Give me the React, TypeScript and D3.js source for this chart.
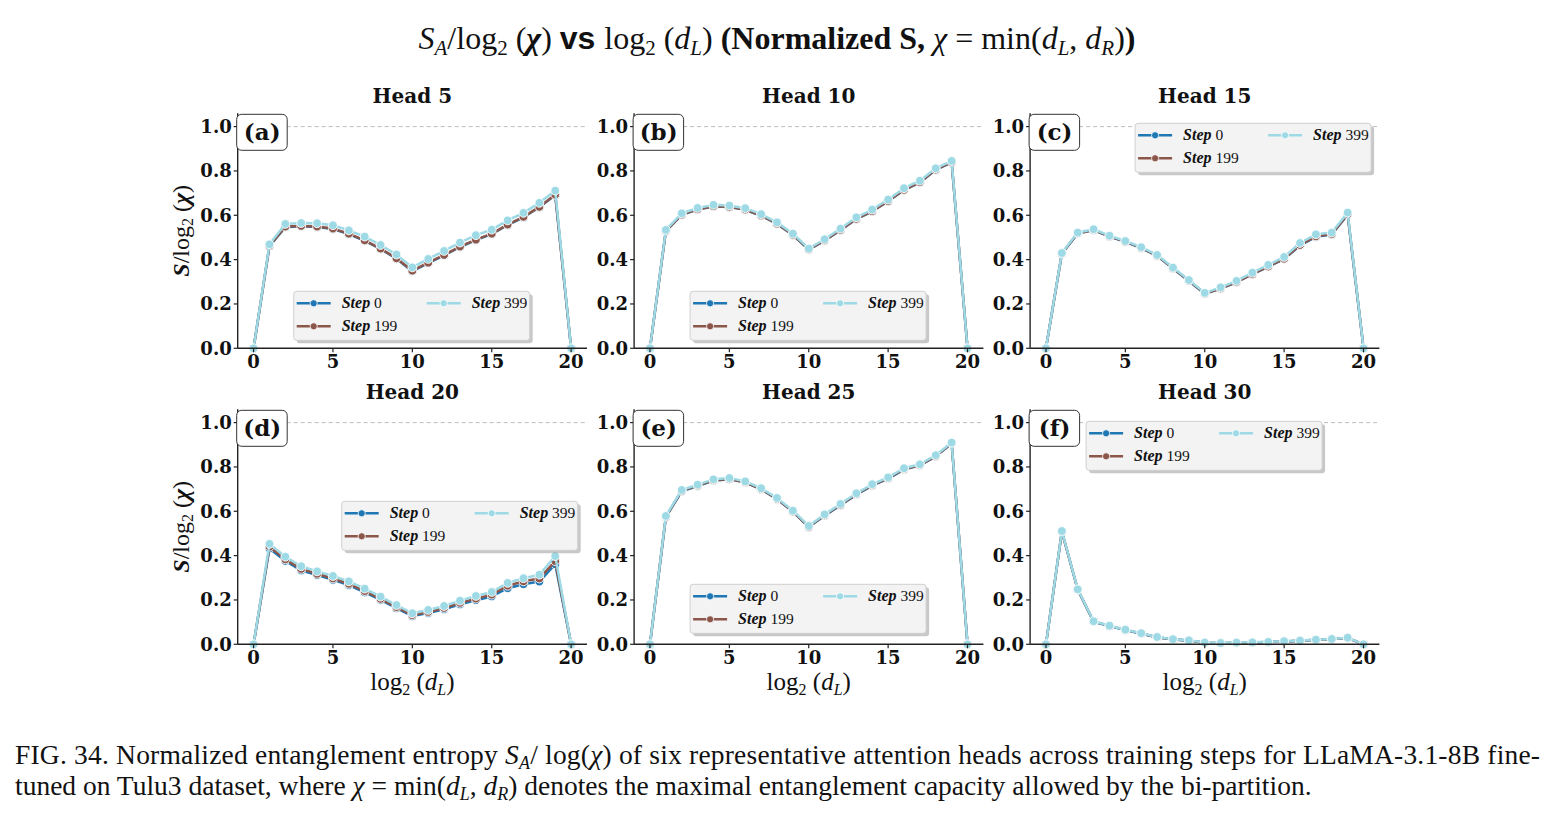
import * as d3 from 'd3'

// log2(d_L) positions along the chain
const cuts = d3.range(0, 21)

const heads = ['Head 5', 'Head 10', 'Head 15', 'Head 20', 'Head 25', 'Head 30']
const panelTags = ['(a)', '(b)', '(c)', '(d)', '(e)', '(f)']
const stepNames = ['0', '199', '399']
const stepColors = ['#1f77b4', '#8c564b', '#9edae5']
const yTicks = [0, 0.2, 0.4, 0.6, 0.8, 1.0]
const xTicks = [0, 5, 10, 15, 20]

// normalized entropy S/log2(chi) per head, for steps 0 / 199 / 399
const head5Step0 = [0, 0.461, 0.546, 0.55, 0.547, 0.538, 0.515, 0.485, 0.448, 0.404, 0.348, 0.384, 0.419, 0.457, 0.488, 0.515, 0.556, 0.591, 0.636, 0.691, 0]
const head5Step199 = [0, 0.463, 0.549, 0.552, 0.549, 0.54, 0.517, 0.487, 0.45, 0.406, 0.35, 0.386, 0.421, 0.459, 0.49, 0.517, 0.558, 0.593, 0.638, 0.693, 0]
const head5Step399 = [0, 0.469, 0.561, 0.565, 0.564, 0.555, 0.532, 0.504, 0.466, 0.423, 0.365, 0.403, 0.439, 0.477, 0.51, 0.535, 0.577, 0.611, 0.656, 0.711, 0]

const head10Step0 = [0, 0.529, 0.602, 0.626, 0.64, 0.637, 0.625, 0.598, 0.561, 0.511, 0.445, 0.486, 0.533, 0.583, 0.618, 0.663, 0.714, 0.748, 0.805, 0.839, 0]
const head10Step199 = [0, 0.53, 0.603, 0.627, 0.641, 0.638, 0.626, 0.599, 0.562, 0.512, 0.446, 0.487, 0.534, 0.584, 0.619, 0.664, 0.715, 0.749, 0.806, 0.84, 0]
const head10Step399 = [0, 0.534, 0.609, 0.633, 0.647, 0.644, 0.632, 0.605, 0.568, 0.517, 0.45, 0.492, 0.54, 0.591, 0.626, 0.671, 0.722, 0.756, 0.812, 0.845, 0]

const head15Step0 = [0, 0.427, 0.518, 0.533, 0.504, 0.48, 0.452, 0.417, 0.36, 0.304, 0.246, 0.269, 0.298, 0.334, 0.368, 0.403, 0.464, 0.503, 0.513, 0.603, 0]
const head15Step199 = [0, 0.428, 0.519, 0.534, 0.505, 0.481, 0.453, 0.418, 0.361, 0.305, 0.247, 0.27, 0.299, 0.335, 0.369, 0.404, 0.466, 0.505, 0.515, 0.605, 0]
const head15Step399 = [0, 0.43, 0.522, 0.537, 0.508, 0.484, 0.456, 0.421, 0.364, 0.308, 0.25, 0.275, 0.304, 0.341, 0.376, 0.412, 0.475, 0.514, 0.522, 0.612, 0]

const head20Step0 = [0, 0.432, 0.376, 0.333, 0.312, 0.291, 0.267, 0.234, 0.2, 0.163, 0.127, 0.141, 0.158, 0.18, 0.199, 0.216, 0.253, 0.271, 0.283, 0.361, 0]
const head20Step199 = [0, 0.44, 0.383, 0.34, 0.318, 0.297, 0.273, 0.24, 0.205, 0.168, 0.132, 0.146, 0.164, 0.187, 0.206, 0.224, 0.264, 0.284, 0.297, 0.375, 0]
const head20Step399 = [0, 0.453, 0.395, 0.352, 0.329, 0.308, 0.284, 0.251, 0.215, 0.177, 0.14, 0.155, 0.173, 0.197, 0.218, 0.236, 0.277, 0.298, 0.314, 0.398, 0]

const head25Step0 = [0, 0.574, 0.69, 0.714, 0.738, 0.745, 0.73, 0.699, 0.655, 0.598, 0.529, 0.58, 0.627, 0.675, 0.716, 0.747, 0.788, 0.807, 0.848, 0.906, 0]
const head25Step199 = [0, 0.575, 0.692, 0.716, 0.74, 0.746, 0.731, 0.7, 0.656, 0.599, 0.53, 0.582, 0.629, 0.677, 0.718, 0.749, 0.79, 0.808, 0.849, 0.907, 0]
const head25Step399 = [0, 0.579, 0.696, 0.72, 0.744, 0.75, 0.735, 0.704, 0.66, 0.603, 0.534, 0.586, 0.633, 0.681, 0.722, 0.753, 0.794, 0.812, 0.853, 0.91, 0]

const head30Step0 = [0, 0.508, 0.246, 0.102, 0.082, 0.064, 0.048, 0.032, 0.022, 0.017, 0.007, 0.005, 0.007, 0.008, 0.01, 0.013, 0.016, 0.02, 0.023, 0.029, 0]
const head30Step199 = [0, 0.509, 0.247, 0.103, 0.083, 0.065, 0.049, 0.032, 0.022, 0.017, 0.007, 0.005, 0.007, 0.008, 0.01, 0.013, 0.016, 0.02, 0.023, 0.029, 0]
const head30Step399 = [0, 0.511, 0.248, 0.104, 0.084, 0.066, 0.05, 0.033, 0.023, 0.018, 0.008, 0.006, 0.008, 0.009, 0.011, 0.014, 0.017, 0.021, 0.024, 0.03, 0]

const headSeries = [
	[head5Step0, head5Step199, head5Step399],
	[head10Step0, head10Step199, head10Step399],
	[head15Step0, head15Step199, head15Step399],
	[head20Step0, head20Step199, head20Step399],
	[head25Step0, head25Step199, head25Step399],
	[head30Step0, head30Step199, head30Step399],
]

// legend box offset (px) from each panel's top-left corner
const legendOffsets = [
	[56, 178],
	[56, 178],
	[105, 10],
	[104, 92],
	[56, 175],
	[56, 12],
]

const colLeft = [237.7, 634.1, 1030.1]
const rowBase = [348.3, 644.3]
const axW = 349.3
const unitY = 221.7
const yMax = 1.06
const axH = yMax * unitY

const serif = "'DejaVu Serif', serif"
const times = "'Liberation Serif', 'Times New Roman', serif"

function Legend({ x, y }: { x: number; y: number }) {
	const w = 236
	const h = 49
	const entries = [
		{ i: 0, dx: 3, dy: 12 },
		{ i: 1, dx: 3, dy: 35 },
		{ i: 2, dx: 133, dy: 12 },
	]
	return (
		<g transform={`translate(${x}, ${y})`}>
			<rect x={3} y={3} width={w} height={h} rx={3} fill="#9a9a9a" opacity={0.55} />
			<rect x={0} y={0} width={w} height={h} rx={3} fill="#f3f3f3" stroke="#d0d0d0" strokeWidth={1} />
			{entries.map((e) => (
				<g key={e.i} transform={`translate(${e.dx}, ${e.dy})`}>
					<line x1={0} x2={34} y1={0} y2={0} stroke={stepColors[e.i]} strokeWidth={2.5} />
					<circle cx={17} cy={0} r={3.6} fill={stepColors[e.i]} stroke="#fff" strokeWidth={0.8} />
					<text x={45} y={5} fontFamily={times} fontSize={16} fill="#111">
						<tspan fontWeight="bold" fontStyle="italic">Step</tspan>
						<tspan fontSize={15.5}> {stepNames[e.i]}</tspan>
					</text>
				</g>
			))}
		</g>
	)
}

function Panel({ idx }: { idx: number }) {
	const col = idx % 3
	const row = Math.floor(idx / 3)
	const left = colLeft[col]
	const base = rowBase[row]
	const top = base - axH

	const x = d3.scaleLinear().domain([-1, 21]).range([0, axW])
	const y = d3.scaleLinear().domain([0, yMax]).range([axH, 0])
	const line = d3
		.line<number>()
		.x((_, i) => x(cuts[i]))
		.y((v) => y(v))

	const series = headSeries[idx]
	const [lx, ly] = legendOffsets[idx]

	return (
		<g transform={`translate(${left}, ${top})`}>
			<text x={axW / 2} y={-10} textAnchor="middle" fontFamily={serif} fontWeight="bold" fontSize={20} fill="#111">
				{heads[idx]}
			</text>

			<line x1={0} x2={axW} y1={y(1)} y2={y(1)} stroke="#bdbdbd" strokeWidth={1} strokeDasharray="4,3" />

			{series.map((vals, s) => (
				<g key={s}>
					<path d={line(vals) ?? ''} fill="none" stroke={stepColors[s]} strokeWidth={2.5} strokeLinejoin="round" />
					{vals.map((v, i) => (
						<circle key={i} cx={x(cuts[i])} cy={y(v)} r={4.4} fill={stepColors[s]} stroke="#fff" strokeWidth={0.9} />
					))}
				</g>
			))}

			{/* spines */}
			<line x1={0} x2={0} y1={0} y2={axH} stroke="#222" strokeWidth={1.4} />
			<line x1={0} x2={axW} y1={axH} y2={axH} stroke="#222" strokeWidth={1.4} />

			{yTicks.map((t) => (
				<g key={t}>
					<line x1={-4} x2={0} y1={y(t)} y2={y(t)} stroke="#222" strokeWidth={1.2} />
					<text x={-6} y={y(t)} dy="0.36em" textAnchor="end" fontFamily={serif} fontWeight="bold" fontSize={18} fill="#111">
						{t.toFixed(1)}
					</text>
				</g>
			))}
			{xTicks.map((t) => (
				<g key={t}>
					<line x1={x(t)} x2={x(t)} y1={axH} y2={axH + 4} stroke="#222" strokeWidth={1.2} />
					<text x={x(t)} y={axH + 20} textAnchor="middle" fontFamily={serif} fontWeight="bold" fontSize={18} fill="#111">
						{t}
					</text>
				</g>
			))}

			<rect x={-1} y={1} width={50.5} height={36} rx={5} fill="#fff" stroke="#333" strokeWidth={1} />
			<text x={24.5} y={27} textAnchor="middle" fontFamily={serif} fontWeight="bold" fontSize={23} fill="#111">
				{panelTags[idx]}
			</text>

			<Legend x={lx} y={ly} />

			{col === 0 && (
				<text
					transform={`translate(${-49}, ${axH / 2}) rotate(-90)`}
					textAnchor="middle"
					fontFamily={times}
					fontSize={24}
					fill="#111"
				>
					<tspan fontStyle="italic" fontWeight="bold">S</tspan>
					<tspan>/log</tspan>
					<tspan fontSize={16} dy={4}>2</tspan>
					<tspan dy={-4}> (</tspan>
					<tspan fontStyle="italic" fontWeight="bold">χ</tspan>
					<tspan>)</tspan>
				</text>
			)}

			{row === 1 && (
				<text x={axW / 2} y={axH + 46} textAnchor="middle" fontFamily={times} fontSize={25} fill="#111">
					<tspan>log</tspan>
					<tspan fontSize={16} dy={5}>2</tspan>
					<tspan dy={-5}> (</tspan>
					<tspan fontStyle="italic">d</tspan>
					<tspan fontSize={16} fontStyle="italic" dy={5}>L</tspan>
					<tspan dy={-5}>)</tspan>
				</text>
			)}
		</g>
	)
}

export default function App() {
	return (
		<svg
			width={1555}
			height={816}
			viewBox="0 0 1555 816"
			style={{ position: 'absolute', left: 0, top: 0, background: '#fff' }}
		>
			<text x={777} y={49} textAnchor="middle" fontFamily={times} fontSize={32} fill="#111">
				<tspan fontStyle="italic">S</tspan>
				<tspan fontStyle="italic" fontSize={21} dy={6}>A</tspan>
				<tspan dy={-6}>/log</tspan>
				<tspan fontSize={21} dy={6}>2</tspan>
				<tspan dy={-6}> (</tspan>
				<tspan fontStyle="italic" fontWeight="bold">χ</tspan>
				<tspan>) </tspan>
				<tspan fontFamily="'Liberation Sans', sans-serif" fontWeight="bold">vs </tspan>
				<tspan>log</tspan>
				<tspan fontSize={21} dy={6}>2</tspan>
				<tspan dy={-6}> (</tspan>
				<tspan fontStyle="italic">d</tspan>
				<tspan fontStyle="italic" fontSize={21} dy={6}>L</tspan>
				<tspan dy={-6}>) </tspan>
				<tspan fontWeight="bold">(Normalized S, </tspan>
				<tspan fontStyle="italic">χ</tspan>
				<tspan> = min(</tspan>
				<tspan fontStyle="italic">d</tspan>
				<tspan fontStyle="italic" fontSize={21} dy={6}>L</tspan>
				<tspan dy={-6}>, </tspan>
				<tspan fontStyle="italic">d</tspan>
				<tspan fontStyle="italic" fontSize={21} dy={6}>R</tspan>
				<tspan dy={-6}>)</tspan>
				<tspan fontWeight="bold">)</tspan>
			</text>

			{heads.map((_, i) => (
				<Panel key={i} idx={i} />
			))}

			<text x={15} y={764} fontFamily={times} fontSize={27.5} fill="#111" textLength={1525} lengthAdjust="spacing">
				<tspan>FIG. 34.  Normalized entanglement entropy </tspan>
				<tspan fontStyle="italic">S</tspan>
				<tspan fontStyle="italic" fontSize={18} dy={5}>A</tspan>
				<tspan dy={-5}>/ log(</tspan>
				<tspan fontStyle="italic">χ</tspan>
				<tspan>) of six representative attention heads across training steps for LLaMA-3.1-8B fine-</tspan>
			</text>
			<text x={15} y={795} fontFamily={times} fontSize={27.5} fill="#111">
				<tspan>tuned on Tulu3 dataset, where </tspan>
				<tspan fontStyle="italic">χ</tspan>
				<tspan> = min(</tspan>
				<tspan fontStyle="italic">d</tspan>
				<tspan fontStyle="italic" fontSize={18} dy={5}>L</tspan>
				<tspan dy={-5}>, </tspan>
				<tspan fontStyle="italic">d</tspan>
				<tspan fontStyle="italic" fontSize={18} dy={5}>R</tspan>
				<tspan dy={-5}>) denotes the maximal entanglement capacity allowed by the bi-partition.</tspan>
			</text>
		</svg>
	)
}
